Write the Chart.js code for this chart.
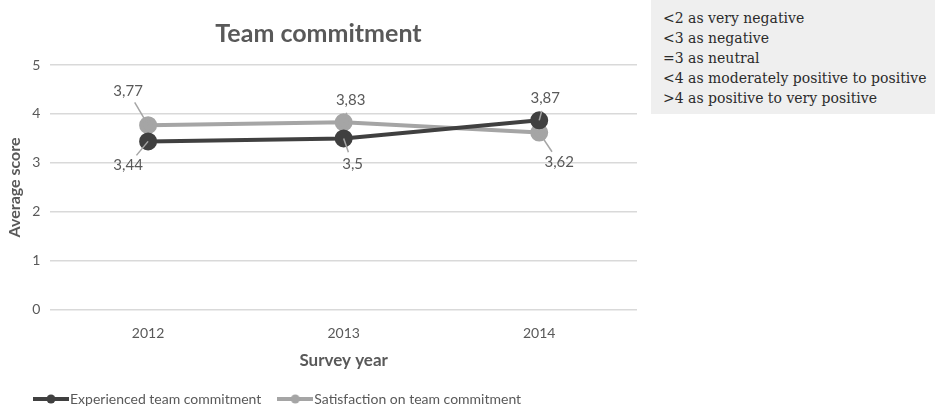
<!DOCTYPE html>
<html>
<head>
<meta charset="utf-8">
<title>Team commitment</title>
<script src="https://cdn.jsdelivr.net/npm/chart.js@4.4.0/dist/chart.umd.min.js"></script>
<style>
  body { margin: 0; background: #fff; }
  #wrap { position: relative; width: 935px; height: 408px; }
  #note {
    position: absolute; left: 651px; top: 0; width: 284px; height: 114px;
    background: #efefef; box-sizing: border-box; padding: 8px 0 0 12px;
    font-family: "DejaVu Serif", serif; font-size: 14px; line-height: 20px; color: #2b2b2b;
    white-space: nowrap; overflow: hidden;
  }
</style>
</head>
<body>
<div id="wrap">
  <canvas id="chart" width="935" height="408"></canvas>
  <div id="note"></div>
</div>
<script>
// Data
const years = ['2012', '2013', '2014'];
const experienced = [3.44, 3.5, 3.87];
const satisfaction = [3.77, 3.83, 3.62];
const yTicks = [0, 1, 2, 3, 4, 5];
const scaleNotes = [
  '<2 as very negative',
  '<3 as negative',
  '=3 as neutral',
  '<4 as moderately positive to positive',
  '>4 as positive to very positive'
];

const darkGrey = '#404040';
const lightGrey = '#a5a5a5';
const textGrey = '#595959';
const font = 'Lato, "Open Sans", sans-serif';

document.getElementById('note').innerHTML = scaleNotes
  .map(s => '<div>' + s.replace(/</g, '&lt;').replace(/>/g, '&gt;') + '</div>').join('');

// small line-with-dot swatch for the legend
function swatch(color) {
  const c = document.createElement('canvas');
  c.width = 36; c.height = 12;
  const g = c.getContext('2d');
  g.strokeStyle = color; g.lineWidth = 4;
  g.beginPath(); g.moveTo(0, 6); g.lineTo(36, 6); g.stroke();
  g.fillStyle = color;
  g.beginPath(); g.arc(18, 6, 4.5, 0, Math.PI * 2); g.fill();
  return c;
}

// value labels with short leader lines, offset in a per-point direction
const valueLabels = {
  id: 'valueLabels',
  afterDatasetsDraw(chart) {
    const ctx = chart.ctx;
    ctx.save();
    ctx.font = '15px ' + font;
    ctx.fillStyle = textGrey;
    ctx.textAlign = 'center';
    ctx.textBaseline = 'middle';
    chart.data.datasets.forEach((ds, i) => {
      const meta = chart.getDatasetMeta(i);
      meta.data.forEach((pt, j) => {
        const [dx, dy] = ds.labelOffset[j];
        const len = Math.hypot(dx, dy);
        const k = 1 - 13 / len;
        ctx.strokeStyle = lightGrey;
        ctx.lineWidth = 1.5;
        ctx.beginPath();
        ctx.moveTo(pt.x, pt.y);
        ctx.lineTo(pt.x + dx * k, pt.y + dy * k);
        ctx.stroke();
        ctx.fillText(String(ds.data[j]).replace('.', ','), pt.x + dx, pt.y + dy);
      });
    });
    ctx.restore();
  }
};

// nudge the legend a little right of the canvas edge
const legendShift = {
  id: 'legendShift',
  afterLayout(chart) {
    chart.legend.left += 17;
    chart.legend.right += 17;
  }
};

new Chart(document.getElementById('chart'), {
  type: 'line',
  data: {
    labels: years,
    datasets: [{
      label: 'Experienced team commitment',
      data: experienced,
      borderColor: darkGrey,
      backgroundColor: darkGrey,
      borderWidth: 4,
      pointRadius: 7,
      pointHoverRadius: 7,
      labelOffset: [[-20, 24], [9, 26], [6, -22]]
    }, {
      label: 'Satisfaction on team commitment',
      data: satisfaction,
      borderColor: lightGrey,
      backgroundColor: lightGrey,
      borderWidth: 4,
      pointRadius: 7,
      pointHoverRadius: 7,
      labelOffset: [[-20, -34], [7, -22], [20, 30]]
    }]
  },
  options: {
    responsive: false,
    animation: false,
    layout: { padding: { left: 0, right: 298, top: 0, bottom: -8 } },
    elements: { point: { pointStyle: 'circle' }, line: { tension: 0 } },
    plugins: {
      title: {
        display: true,
        text: 'Team commitment',
        color: textGrey,
        font: { family: font, size: 25, weight: 'bold' },
        padding: { top: 19, bottom: 16 }
      },
      legend: {
        position: 'bottom',
        align: 'start',
        labels: {
          usePointStyle: true,
          pointStyleWidth: 24,
          color: textGrey,
          font: { family: font, size: 14 },
          padding: 22,
          generateLabels(chart) {
            return chart.data.datasets.map((ds, i) => ({
              text: ds.label,
              pointStyle: swatch(ds.borderColor),
              fillStyle: ds.borderColor,
              strokeStyle: ds.borderColor,
              lineWidth: 0,
              fontColor: textGrey,
              datasetIndex: i
            }));
          }
        }
      },
      tooltip: { enabled: false }
    },
    scales: {
      x: {
        offset: true,
        grid: { display: false, drawTicks: false },
        border: { display: false },
        ticks: { color: textGrey, font: { family: font, size: 14 }, padding: 15 },
        title: {
          display: true, text: 'Survey year', color: textGrey,
          font: { family: font, size: 17, weight: 'bold' }, padding: { top: -6, bottom: -1 }
        }
      },
      y: {
        min: 0,
        max: 5,
        afterBuildTicks(axis) { axis.ticks = yTicks.map(v => ({ value: v })); },
        grid: { color: '#d9d9d9', lineWidth: 1.5, drawTicks: false },
        border: { display: false },
        ticks: { color: textGrey, font: { family: font, size: 14 }, padding: 10 },
        title: {
          display: true, text: 'Average score', color: textGrey,
          font: { family: font, size: 16, weight: 'bold' }, padding: { top: 5, bottom: -2 }
        }
      }
    }
  },
  plugins: [valueLabels, legendShift]
});
</script>
</body>
</html>
